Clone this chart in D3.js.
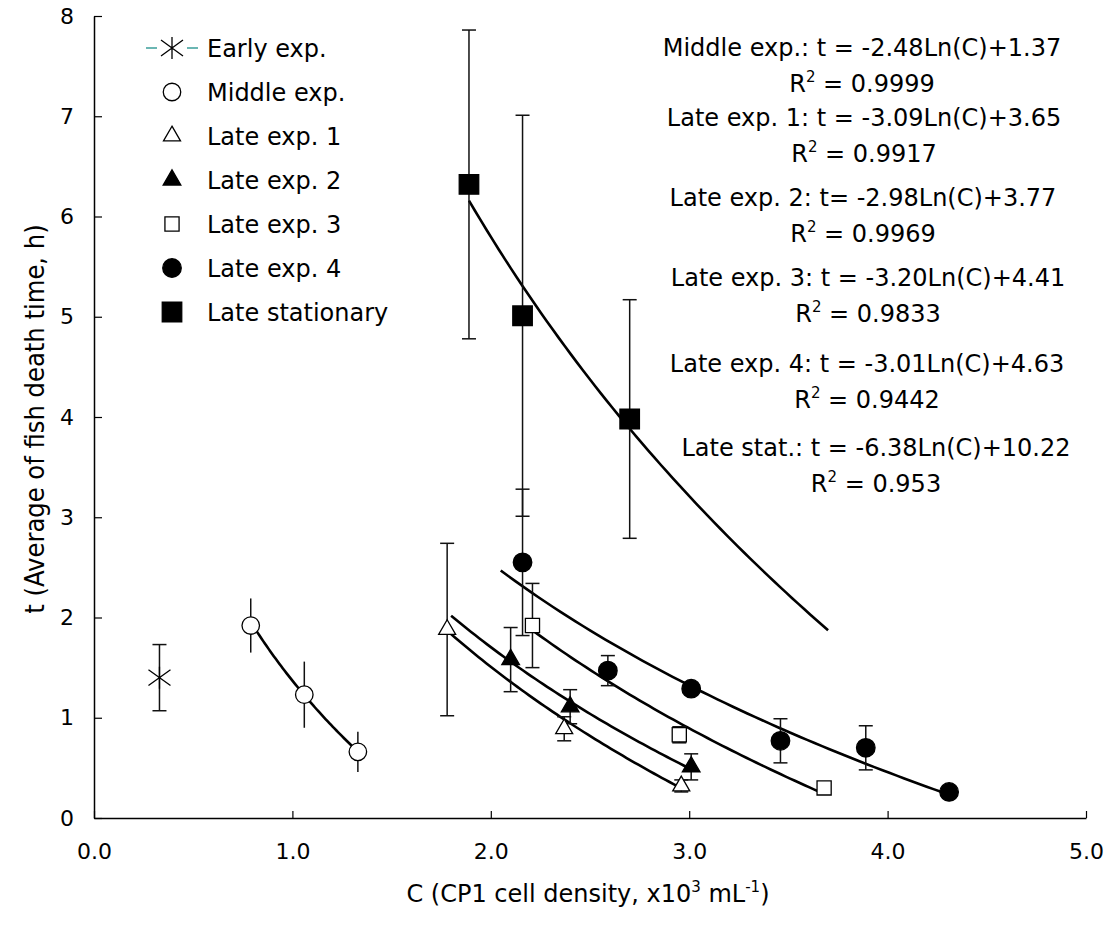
<!DOCTYPE html>
<html>
<head>
<meta charset="utf-8">
<script src="https://cdn.jsdelivr.net/npm/d3@7"></script>
<style>
  body { margin: 0; background: #fff; }
  svg text { font-family: "DejaVu Sans", sans-serif; fill: #000; }
</style>
</head>
<body>
<svg id="chart" width="1114" height="928"></svg>
<script>
// Fish death time vs CP1 cell density, one series per growth phase.
// Values; curves come from the printed fits.

const earlyC = [0.33];
const earlyT = [1.40];
const earlyErr = [0.33];

const middleC = [0.79, 1.06, 1.33];
const middleT = [1.92, 1.23, 0.66];
const middleErr = [0.27, 0.33, 0.20];

const late1C = [1.78, 2.37, 2.96];
const late1T = [1.88, 0.89, 0.32];
const late1Err = [0.86, 0.12, 0.06];

const late2C = [2.10, 2.40, 3.01];
const late2T = [1.58, 1.11, 0.51];
const late2Err = [0.32, 0.17, 0.13];

const late3C = [2.21, 2.95, 3.68];
const late3T = [1.92, 0.83, 0.30];
const late3Err = [0.42, 0.08, 0];

const late4C = [2.16, 2.59, 3.01, 3.46, 3.89, 4.31];
const late4T = [2.55, 1.47, 1.29, 0.77, 0.70, 0.26];
const late4Err = [0.73, 0.15, 0.05, 0.22, 0.22, 0];

const statC = [1.89, 2.16, 2.70];
const statT = [6.32, 5.01, 3.98];
const statErr = [1.54, 2.00, 1.19];

// logarithmic fits t = a*Ln(C) + b, drawn over [from, to]
const fitSlope = [-2.48, -3.09, -2.98, -3.20, -3.01, -6.38];
const fitIntercept = [1.37, 3.65, 3.77, 4.41, 4.63, 10.22];
const fitFrom = [0.79, 1.78, 1.80, 2.21, 2.05, 1.89];
const fitTo = [1.33, 2.96, 3.01, 3.68, 4.31, 3.70];

const legendLabels = ["Early exp.", "Middle exp.", "Late exp. 1", "Late exp. 2",
  "Late exp. 3", "Late exp. 4", "Late stationary"];

const fitLabels = [
  "Middle exp.: t = -2.48Ln(C)+1.37",
  "Late exp. 1: t = -3.09Ln(C)+3.65",
  "Late exp. 2: t= -2.98Ln(C)+3.77",
  "Late exp. 3: t = -3.20Ln(C)+4.41",
  "Late exp. 4: t = -3.01Ln(C)+4.63",
  "Late stat.: t = -6.38Ln(C)+10.22",
];
const fitR2 = ["0.9999", "0.9917", "0.9969", "0.9833", "0.9442", "0.953"];

const xTicks = [0, 1, 2, 3, 4, 5];
const yTicks = [0, 1, 2, 3, 4, 5, 6, 7, 8];

// --- layout ---------------------------------------------------------------

const svg = d3.select("#chart");
const x = d3.scaleLinear().domain([0, 5]).range([94, 1086]);
const y = d3.scaleLinear().domain([0, 8]).range([818, 16]);

const xAxis = svg.append("g")
  .attr("transform", `translate(0,${y(0)})`)
  .call(d3.axisBottom(x).tickValues(xTicks).tickFormat(d3.format(".1f"))
    .tickSizeInner(-7).tickSizeOuter(0).tickPadding(25));
const yAxis = svg.append("g")
  .attr("transform", `translate(${x(0)},0)`)
  .call(d3.axisLeft(y).tickValues(yTicks).tickFormat(d3.format("d"))
    .tickSizeInner(-8).tickSizeOuter(0).tickPadding(20));

for (const g of [xAxis, yAxis]) {
  g.select(".domain").attr("stroke", "#000").attr("stroke-width", 1.5);
  g.selectAll(".tick line").attr("stroke", "#000").attr("stroke-width", 1.2);
  g.selectAll(".tick text")
    .style("font-family", "'DejaVu Sans', sans-serif")
    .attr("font-size", 22)
    .attr("fill", "#000");
}

// axis titles
const xTitle = svg.append("text")
  .attr("x", 588).attr("y", 902)
  .attr("text-anchor", "middle")
  .attr("font-size", 24);
xTitle.append("tspan").text("C (CP1 cell density, x10");
xTitle.append("tspan").attr("dy", -10).attr("font-size", 15).text("3");
xTitle.append("tspan").attr("dy", 10).text(" mL");
xTitle.append("tspan").attr("dy", -10).attr("font-size", 15).text("-1");
xTitle.append("tspan").attr("dy", 10).text(")");

svg.append("text")
  .attr("transform", `translate(44,${y(4) + 2}) rotate(-90)`)
  .attr("text-anchor", "middle")
  .style("font-family", "'DejaVu Sans Condensed', sans-serif")
  .attr("font-size", 27)
  .text("t (Average of fish death time, h)");

// --- fitted curves ----------------------------------------------------------

const line = d3.line().x((d) => x(d[0])).y((d) => y(d[1]));
const curves = svg.append("g");
fitSlope.forEach((a, i) => {
  const pts = d3.range(fitFrom[i], fitTo[i] + 1e-9, (fitTo[i] - fitFrom[i]) / 60)
    .map((c) => [c, a * Math.log(c) + fitIntercept[i]]);
  curves.append("path")
    .attr("d", line(pts))
    .attr("fill", "none")
    .attr("stroke", "#000")
    .attr("stroke-width", 2.6);
});

// --- error bars -------------------------------------------------------------

const bars = svg.append("g").attr("stroke", "#111").attr("stroke-width", 1.5);
function errorBars(cs, ts, errs, capped) {
  cs.forEach((c, i) => {
    if (!errs[i]) return;
    const cx = x(c);
    const top = y(ts[i] + errs[i]);
    const bot = y(ts[i] - errs[i]);
    bars.append("line").attr("x1", cx).attr("x2", cx).attr("y1", top).attr("y2", bot);
    if (capped) {
      for (const yy of [top, bot]) {
        bars.append("line").attr("x1", cx - 7).attr("x2", cx + 7).attr("y1", yy).attr("y2", yy);
      }
    }
  });
}
errorBars(earlyC, earlyT, earlyErr, true);
errorBars(middleC, middleT, middleErr, false);
errorBars(late1C, late1T, late1Err, true);
errorBars(late2C, late2T, late2Err, true);
errorBars(late3C, late3T, late3Err, true);
errorBars(late4C, late4T, late4Err, true);
errorBars(statC, statT, statErr, true);

// --- markers ----------------------------------------------------------------

const MARK = {
  star:     { draw: drawStar },
  circle:   { type: d3.symbolCircle,   size: 240, fill: "#fff" },
  triangle: { type: d3.symbolTriangle, size: 125, fill: "#fff" },
  triFill:  { type: d3.symbolTriangle, size: 135, fill: "#000" },
  square:   { type: d3.symbolSquare,   size: 200, fill: "#fff" },
  dot:      { type: d3.symbolCircle,   size: 270, fill: "#000" },
  block:    { type: d3.symbolSquare,   size: 380, fill: "#000" },
};

function drawStar(g, px, py) {
  const r = 11;
  g.append("path")
    .attr("d", `M${px - r},${py - r * 0.72}L${px + r},${py + r * 0.72}` +
      `M${px - r},${py + r * 0.72}L${px + r},${py - r * 0.72}` +
      `M${px},${py - r}L${px},${py + r}`)
    .attr("stroke", "#000").attr("stroke-width", 1.3).attr("fill", "none");
}

function drawMark(g, kind, px, py) {
  const m = MARK[kind];
  if (m.draw) { m.draw(g, px, py); return; }
  g.append("path")
    .attr("d", d3.symbol().type(m.type).size(m.size)())
    .attr("transform", `translate(${px},${py})`)
    .attr("fill", m.fill)
    .attr("stroke", "#000")
    .attr("stroke-width", 1.3);
}

const marks = svg.append("g");
const series = [
  [earlyC, earlyT, "star"],
  [middleC, middleT, "circle"],
  [late1C, late1T, "triangle"],
  [late2C, late2T, "triFill"],
  [late3C, late3T, "square"],
  [late4C, late4T, "dot"],
  [statC, statT, "block"],
];
series.forEach(([cs, ts, kind]) => {
  cs.forEach((c, i) => drawMark(marks, kind, x(c), y(ts[i])));
});

// --- legend -----------------------------------------------------------------

const legend = svg.append("g");
legendLabels.forEach((label, i) => {
  const ly = 48 + i * 44;
  const lx = 172;
  if (i === 0) {
    legend.append("line")
      .attr("x1", lx - 26).attr("x2", lx + 26).attr("y1", ly).attr("y2", ly)
      .attr("stroke", "#3a9e9a").attr("stroke-width", 1.5);
    legend.append("rect")
      .attr("x", lx - 15).attr("y", ly - 8).attr("width", 30).attr("height", 16)
      .attr("fill", "#fff");
  }
  drawMark(legend, series[i][2], lx, ly);
  legend.append("text")
    .attr("x", lx + 35).attr("y", ly)
    .attr("dy", "0.36em")
    .attr("font-size", 24)
    .text(label);
});

// --- fit equations ----------------------------------------------------------

const eqX = [862, 864, 863, 868, 867, 876];
const eqY = [47, 117, 197, 277, 363, 447];
const eqGap = 36;
const notes = svg.append("g").attr("text-anchor", "middle");
fitLabels.forEach((label, i) => {
  notes.append("text")
    .attr("x", eqX[i]).attr("y", eqY[i]).attr("dy", "0.36em")
    .attr("font-size", 24)
    .text(label);
  const r = notes.append("text")
    .attr("x", eqX[i]).attr("y", eqY[i] + eqGap).attr("dy", "0.36em")
    .attr("font-size", 24);
  r.append("tspan").text("R");
  r.append("tspan").attr("dy", -10).attr("font-size", 15).text("2");
  r.append("tspan").attr("dy", 10).text(" = " + fitR2[i]);
});
</script>
</body>
</html>
